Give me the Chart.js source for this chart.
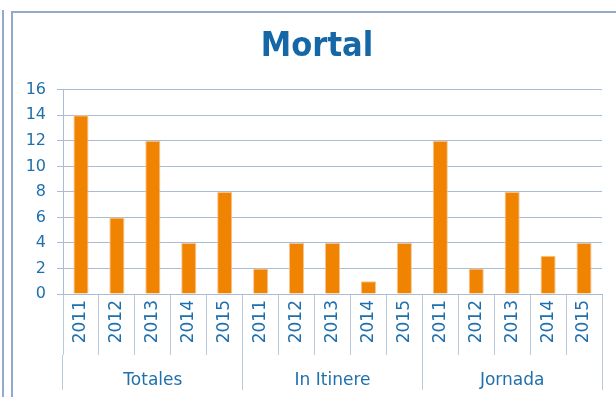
<!DOCTYPE html>
<html>
<head>
<meta charset="utf-8">
<script src="https://cdn.jsdelivr.net/npm/chart.js@4.4.1/dist/chart.umd.min.js"></script>
<style>
  html, body { margin: 0; padding: 0; background: #fff; overflow: hidden; }
  #wrap { position: relative; width: 616px; height: 397px; }
  .edge { position: absolute; left: 2px; top: 10px; width: 2px; height: 400px; background: #93abcb; }
  .frame { position: absolute; left: 11px; top: 11px; width: 700px; height: 500px; border: 2px solid #93abcb; }
  canvas { position: absolute; left: 0; top: 0; }
</style>
</head>
<body>
<div id="wrap">
  <div class="edge"></div>
  <div class="frame"></div>
  <canvas id="chart" width="616" height="397"></canvas>
</div>
<script>
var groups = ['Totales', 'In Itinere', 'Jornada'];
var years = ['2011', '2012', '2013', '2014', '2015'];
var totales = [14, 6, 12, 4, 8];
var inItinere = [2, 4, 4, 1, 4];
var jornada = [12, 2, 8, 3, 4];
var yTicks = [0, 2, 4, 6, 8, 10, 12, 14, 16];

var blue = '#1f70ad';
var lineColor = '#aabcd5';
var sepColor = '#bccade';

// one bar per year inside each group
var labels = [];
var values = [];
[totales, inItinere, jornada].forEach(function(serie) {
    for (let i = 0; i < years.length; i++) {
        labels.push(years[i]);
        values.push(serie[i]);
    }
});

var ctx = document.getElementById('chart');
var chart = new Chart(ctx, {
    type: 'bar',
    data: {
        labels: labels,
        datasets: [{
            label: 'Mortal',
            data: values,
            backgroundColor: '#f08300',
            borderColor: '#f6c391',
            borderWidth: 1,
            barPercentage: 0.42,
            categoryPercentage: 1
        }]
    },
    options: {
        responsive: false,
        animation: false,
        layout: { padding: { left: 24, right: 6, top: 10, bottom: 0 } },
        plugins: {
            legend: { display: false },
            tooltip: { enabled: false },
            title: {
                display: true,
                text: 'Mortal',
                color: '#1567a6',
                font: { family: "'DejaVu Sans Condensed', 'DejaVu Sans'", size: 34, weight: 'bold' },
                padding: { top: 17, bottom: 22 }
            }
        },
        scales: {
            y: {
                min: 0,
                max: 16,
                afterBuildTicks: function(scale) {
                    scale.ticks = yTicks.map(function(v) { return { value: v }; });
                },
                afterFit: function(scale) { scale.width = 39; },
                ticks: {
                    color: blue,
                    padding: 11,
                    font: { family: 'DejaVu Sans', size: 16 }
                },
                grid: { color: lineColor, tickLength: 6 },
                border: { color: lineColor }
            },
            // empty spacer on the right so the title sits a bit right of the plot centre
            yRight: {
                position: 'right',
                afterFit: function(scale) { scale.width = 8; },
                ticks: { display: false },
                grid: { display: false },
                border: { display: false }
            },
            x: {
                position: 'bottom',
                afterFit: function(scale) { scale.height = 61; },
                ticks: {
                    color: blue,
                    minRotation: 90,
                    maxRotation: 90,
                    autoSkip: false,
                    padding: -55,
                    font: { family: 'DejaVu Sans', size: 17 }
                },
                grid: { offset: true, drawOnChartArea: false, color: sepColor, tickLength: 61 },
                border: { color: lineColor }
            },
            x2: {
                type: 'category',
                position: 'bottom',
                labels: groups,
                offset: true,
                afterFit: function(scale) { scale.height = 42; },
                ticks: {
                    color: blue,
                    padding: -20,
                    font: { family: 'DejaVu Sans', size: 17 }
                },
                grid: { offset: true, drawOnChartArea: false, color: sepColor, tickLength: 35 },
                border: { display: false }
            }
        }
    }
});
</script>
</body>
</html>
